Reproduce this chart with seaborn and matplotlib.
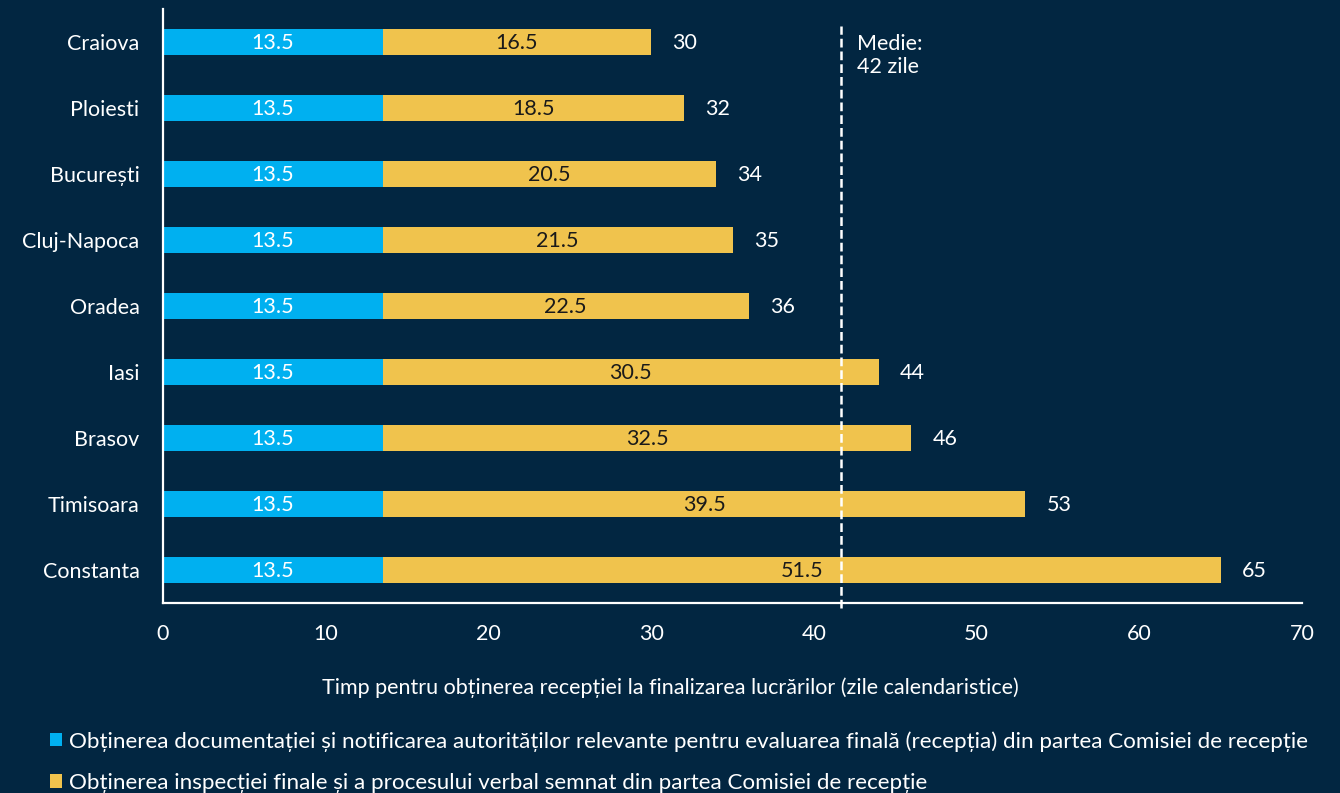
import matplotlib
matplotlib.use("Agg")
import matplotlib.pyplot as plt
import seaborn as sns
import pandas as pd
import numpy as np
from matplotlib.patches import Patch

cities = ["Craiova", "Ploiesti", "București", "Cluj-Napoca", "Oradea", "Iasi", "Brasov", "Timisoara", "Constanta"]
docs = [13.5, 13.5, 13.5, 13.5, 13.5, 13.5, 13.5, 13.5, 13.5]
inspection = [16.5, 18.5, 20.5, 21.5, 22.5, 30.5, 32.5, 39.5, 51.5]
totals = [30, 32, 34, 35, 36, 44, 46, 53, 65]
x_ticks = [0, 10, 20, 30, 40, 50, 60, 70]
legend_labels = [
    "Obținerea documentației și notificarea autorităților relevante pentru evaluarea finală (recepția) din partea Comisiei de recepție",
    "Obținerea inspecției finale și a procesului verbal semnat din partea Comisiei de recepție",
]
mean_label = "Medie:\n42 zile"
xlabel = "Timp pentru obținerea recepției la finalizarea lucrărilor (zile calendaristice)"

BG = "#022641"
BLUE = "#00B0F0"
YELLOW = "#F0C34D"
WHITE = "#FFFFFF"
DARK = "#1A1A1A"

sns.set_theme(style="white")
plt.rcParams["font.family"] = ["Lato", "DejaVu Sans"]

df = pd.DataFrame({"city": cities, "docs": docs, "inspection": inspection, "total": totals})

fig = plt.figure(figsize=(13.4, 7.93), dpi=100, facecolor=BG)
ax = fig.add_axes([163 / 1340, 1 - 603 / 793, (1302 - 163) / 1340, (603 - 9) / 793])
ax.set_facecolor(BG)

sns.barplot(data=df, x="total", y="city", color=YELLOW, width=0.4, orient="h", ax=ax,
            saturation=1, linewidth=0)
sns.barplot(data=df, x="docs", y="city", color=BLUE, width=0.4, orient="h", ax=ax,
            saturation=1, linewidth=0)

fs = 15.5
for i, row in df.iterrows():
    ax.text(row["docs"] / 2, i + 0.02, f"{row['docs']:g}", ha="center", va="center", color=WHITE, fontsize=fs)
    ax.text(row["docs"] + row["inspection"] / 2, i + 0.02, f"{row['inspection']:g}", ha="center", va="center", color=DARK, fontsize=fs)
    ax.text(row["total"] + 1.3, i + 0.02, f"{row['total']:g}", ha="left", va="center", color=WHITE, fontsize=fs)

mean_val = float(np.mean(totals))
ax.axvline(mean_val, ymin=-0.008, ymax=0.972, color=WHITE, lw=1.8, ls=(0, (3.5, 1.6)), clip_on=False)
ax.text(mean_val + 1.0, 0.2, mean_label, ha="left", va="center", color=WHITE, fontsize=fs, linespacing=1.2)

ax.set_xlim(0, 70)
ax.set_ylim(8.5, -0.5)
ax.set_xticks(x_ticks)
ax.set_xticklabels([str(t) for t in x_ticks])
ax.tick_params(axis="both", length=0, colors=WHITE, labelsize=fs)
ax.tick_params(axis="y", pad=17)
ax.tick_params(axis="x", pad=15)
ax.set_ylabel("")
ax.set_xlabel(xlabel, color=WHITE, fontsize=fs, labelpad=24)
ax.xaxis.label.set_x((670 - 163) / 1139)

for s in ["top", "right"]:
    ax.spines[s].set_visible(False)
for s in ["left", "bottom"]:
    ax.spines[s].set_visible(True)
    ax.spines[s].set_color(WHITE)
    ax.spines[s].set_linewidth(1.6)

handles = [Patch(facecolor=BLUE, edgecolor="none"), Patch(facecolor=YELLOW, edgecolor="none")]
fig.legend(handles, legend_labels, loc="upper left", bbox_to_anchor=(50 / 1340, 1 - 731 / 793),
           frameon=False, fontsize=16.1, labelcolor=WHITE, handlelength=0.55, handleheight=0.55,
           handletextpad=0.3, labelspacing=0.95, borderaxespad=0, borderpad=0)

fig.savefig("out.png", dpi=100, facecolor=BG)
